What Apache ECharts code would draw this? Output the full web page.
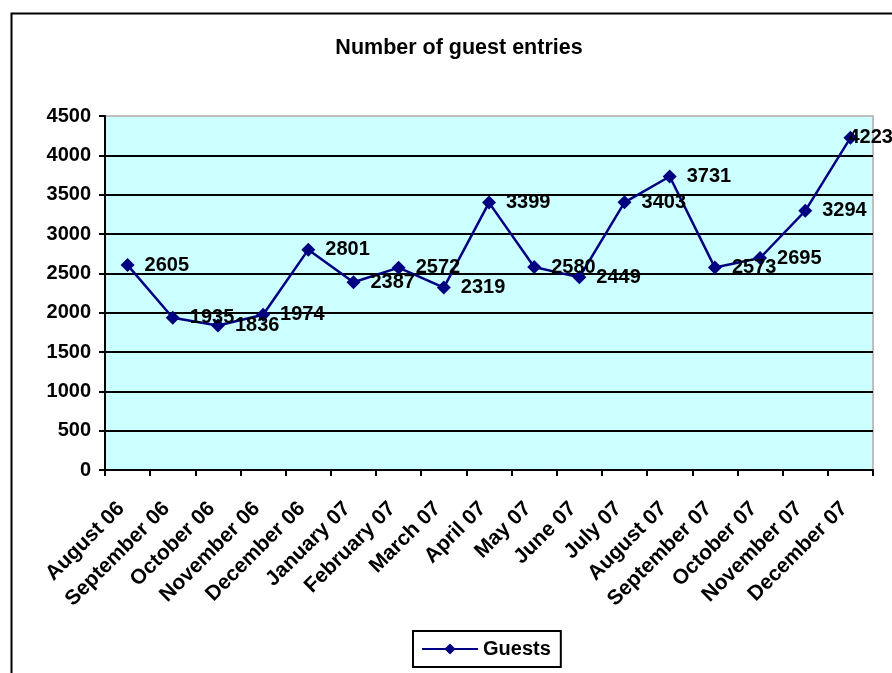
<!DOCTYPE html>
<html>
<head>
<meta charset="utf-8">
<script src="https://cdn.jsdelivr.net/npm/echarts@6/dist/echarts.min.js"></script>
<style>html,body{margin:0;padding:0;background:#fff}#c{width:892px;height:673px}</style>
</head>
<body>
<div id="c"></div>
<script>
var categories = ['August 06','September 06','October 06','November 06','December 06','January 07','February 07','March 07','April 07','May 07','June 07','July 07','August 07','September 07','October 07','November 07','December 07'];
var guests = [2605,1935,1836,1974,2801,2387,2572,2319,3399,2580,2449,3403,3731,2573,2695,3294,4223];
var yTicks = {min:0, max:4500, interval:500};

var FONT = '"Liberation Sans", Arial, sans-serif';
var chart = echarts.init(document.getElementById('c'), null, {renderer:'canvas'});
var seriesData = guests.map(function(v, i){
  if (i === guests.length - 1) return {value:v, label:{distance:-9}};
  return v;
});
chart.setOption({
  animation:false,
  backgroundColor:'#ffffff',
  title:{
    text:'Number of guest entries',
    left:454, top:32, textAlign:'center',
    textStyle:{fontFamily:FONT, fontWeight:'bold', fontSize:21.5, color:'#000'}
  },
  graphic:[{
    type:'rect', left:9, top:11, z:100,
    shape:{x:0,y:0,width:1000,height:1000},
    style:{fill:'none', stroke:'#000', lineWidth:2}
  }],
  legend:{
    left:413, top:631,
    padding:[8,10,8,8],
    borderColor:'#000', borderWidth:2,
    itemWidth:56, itemHeight:14, itemGap:5,
    textStyle:{fontFamily:FONT, fontWeight:'bold', fontSize:20, color:'#000'},
    data:['Guests']
  },
  grid:{
    left:105, right:19, top:116, bottom:203,
    show:true, backgroundColor:'#ccffff', borderColor:'#bfbfbf', borderWidth:2
  },
  xAxis:{
    type:'category', data:categories, boundaryGap:true,
    axisLine:{lineStyle:{color:'#000', width:2}},
    axisTick:{show:true, length:6, lineStyle:{color:'#000', width:2}},
    axisLabel:{interval:0, rotate:45, margin:29, padding:[0,9,0,0], fontFamily:FONT, fontWeight:'bold', fontSize:21, color:'#000'},
    splitLine:{show:false}
  },
  yAxis:{
    type:'value', min:yTicks.min, max:yTicks.max, interval:yTicks.interval,
    axisLine:{show:true, lineStyle:{color:'#000', width:2}},
    axisTick:{show:true, length:6, lineStyle:{color:'#000', width:2}},
    axisLabel:{margin:14, fontFamily:FONT, fontWeight:'bold', fontSize:20, color:'#000',
      formatter:function(v){return String(v);}},
    splitLine:{show:true, showMaxLine:false, lineStyle:{color:'#000', width:2}}
  },
  series:[{
    name:'Guests', type:'line', data:seriesData,
    symbol:'diamond', symbolSize:14,
    lineStyle:{color:'#000080', width:2.5},
    itemStyle:{color:'#000080'},
    label:{show:true, position:'right', distance:10, fontFamily:FONT, fontWeight:'bold', fontSize:20, color:'#000'}
  }]
});
</script>
</body>
</html>
